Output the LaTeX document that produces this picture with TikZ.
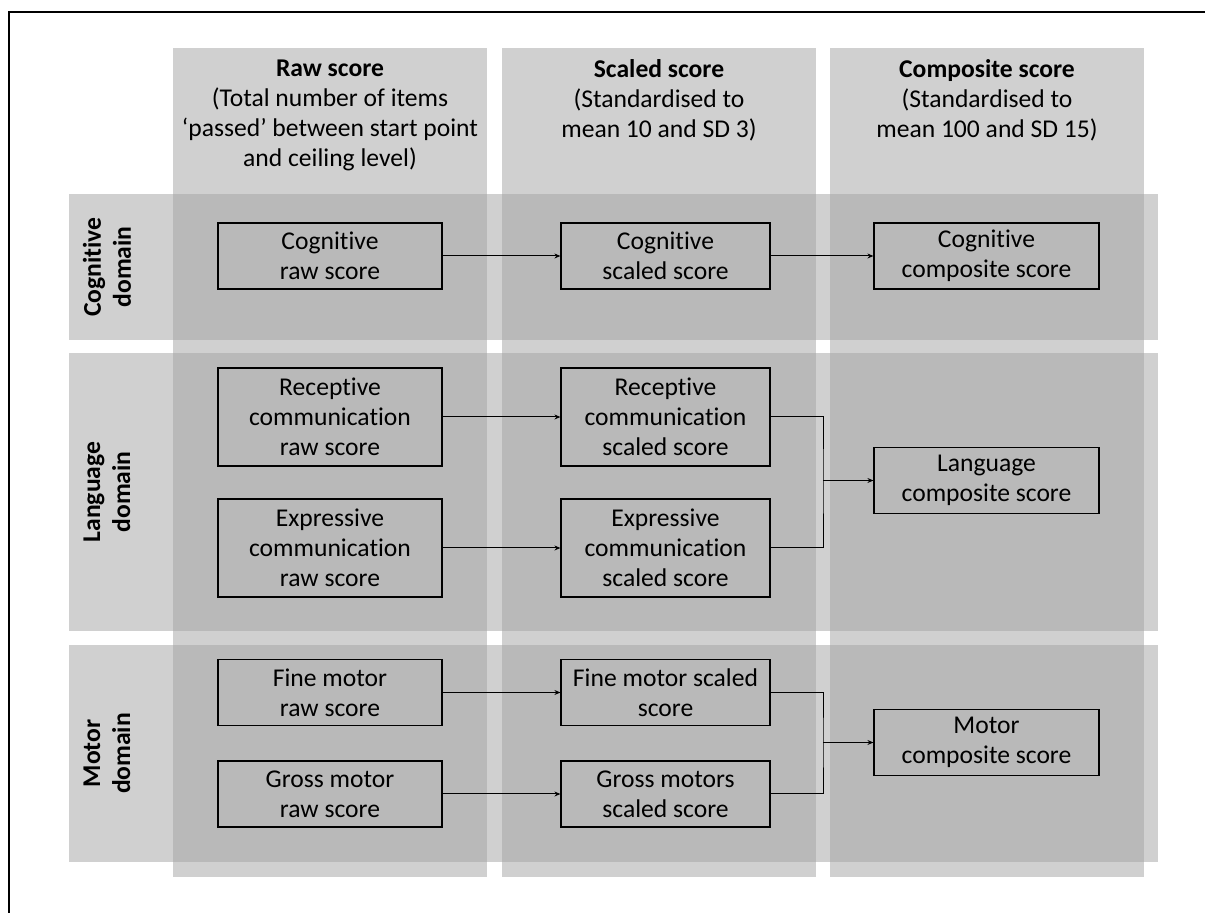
\documentclass[tikz,border=0pt]{standalone}
\usepackage{fontspec}
\setmainfont{Carlito}[RawFeature={-liga;-clig;-calt;-dlig}]
\usetikzlibrary{arrows.meta}

\definecolor{bandgray}{HTML}{D0D0D0}
\definecolor{cellgray}{HTML}{B9B9B9}

\begin{document}
\begin{tikzpicture}[x=0.5pt,y=-0.5pt,
  every node/.style={font=\fontsize{12.8}{15}\selectfont},
  score node/.style={draw,line width=0.6pt,align=center,inner sep=0pt,minimum height=33pt},
  raw node/.style={score node,minimum width=112pt},
  scaled node/.style={score node,minimum width=104.5pt},
  comp node/.style={score node,minimum width=112.5pt},
  three lines/.style={minimum height=49pt},
  head node/.style={align=center},
  domain node/.style={align=center,rotate=90,font=\fontsize{12.8}{15}\selectfont\bfseries},
  link/.style={line width=0.5pt,-{Stealth[length=3pt,width=2.5pt]}}]

\useasboundingbox (0,0) rectangle (1205,913);
\draw[line width=1pt] (9,913) -- (9,12) -- (1205,12);

% score columns, domain rows and their crossings
\foreach \xa/\xb in {173/487,502/816,830/1144}
  \fill[bandgray] (\xa,48) rectangle (\xb,877);
\foreach \ya/\yb in {194/340,353/631,645/862}
  \fill[bandgray] (69,\ya) rectangle (1158,\yb);
\foreach \xa/\xb in {173/487,502/816,830/1144}
  \foreach \ya/\yb in {194/340,353/631,645/862}
    \fill[cellgray] (\xa,\ya) rectangle (\xb,\yb);

% column heads
\node[head node] (rawhead) at (330,115.5) {\textbf{Raw score}\\(Total number of items\\‘passed’ between start point\\and ceiling level)};
\node[head node] (scaledhead) at (659,100.5) {\textbf{Scaled score}\\(Standardised to\\mean 10 and SD 3)};
\node[head node] (comphead) at (987,100.5) {\textbf{Composite score}\\(Standardised to\\mean 100 and SD 15)};

% row heads
\node[domain node] (cogdomain) at (107,267) {Cognitive\\domain};
\node[domain node] (langdomain) at (107,492) {Language\\domain};
\node[domain node] (motordomain) at (107,753.5) {Motor\\domain};

% cognitive
\node[raw node] (cograw) at (330,256) {Cognitive\\raw score};
\node[scaled node] (cogscaled) at (665.5,256) {Cognitive\\scaled score};
\node[comp node] (cogcomp) at (986.5,256) {Cognitive\\composite score};

% language
\node[raw node,three lines] (recraw) at (330,417) {Receptive\\communication\\raw score};
\node[raw node,three lines] (expraw) at (330,548) {Expressive\\communication\\raw score};
\node[scaled node,three lines] (recscaled) at (665.5,417) {Receptive\\communication\\scaled score};
\node[scaled node,three lines] (expscaled) at (665.5,548) {Expressive\\communication\\scaled score};
\node[comp node] (langcomp) at (986.5,480.5) {Language\\composite score};

% motor
\node[raw node] (fineraw) at (330,692.5) {Fine motor\\raw score};
\node[raw node] (grossraw) at (330,794) {Gross motor\\raw score};
\node[scaled node] (finescaled) at (665.5,692.5) {Fine motor scaled\\score};
\node[scaled node] (grossscaled) at (665.5,794) {Gross motors\\scaled score};
\node[comp node] (motorcomp) at (986.5,742.5) {Motor\\composite score};

\draw[link] (cograw) -- (cogscaled);
\draw[link] (cogscaled) -- (cogcomp);
\draw[link] (recraw) -- (recscaled);
\draw[link] (expraw) -- (expscaled);
\draw[link] (fineraw) -- (finescaled);
\draw[link] (grossraw) -- (grossscaled);

\coordinate (langjoin) at (823,480.5);
\coordinate (motorjoin) at (823,742.5);
\draw[line width=0.5pt] (recscaled.east) -| (langjoin) |- (expscaled.east);
\draw[link] (langjoin) -- (langcomp);
\draw[line width=0.5pt] (finescaled.east) -| (motorjoin) |- (grossscaled.east);
\draw[link] (motorjoin) -- (motorcomp);

\end{tikzpicture}
\end{document}
